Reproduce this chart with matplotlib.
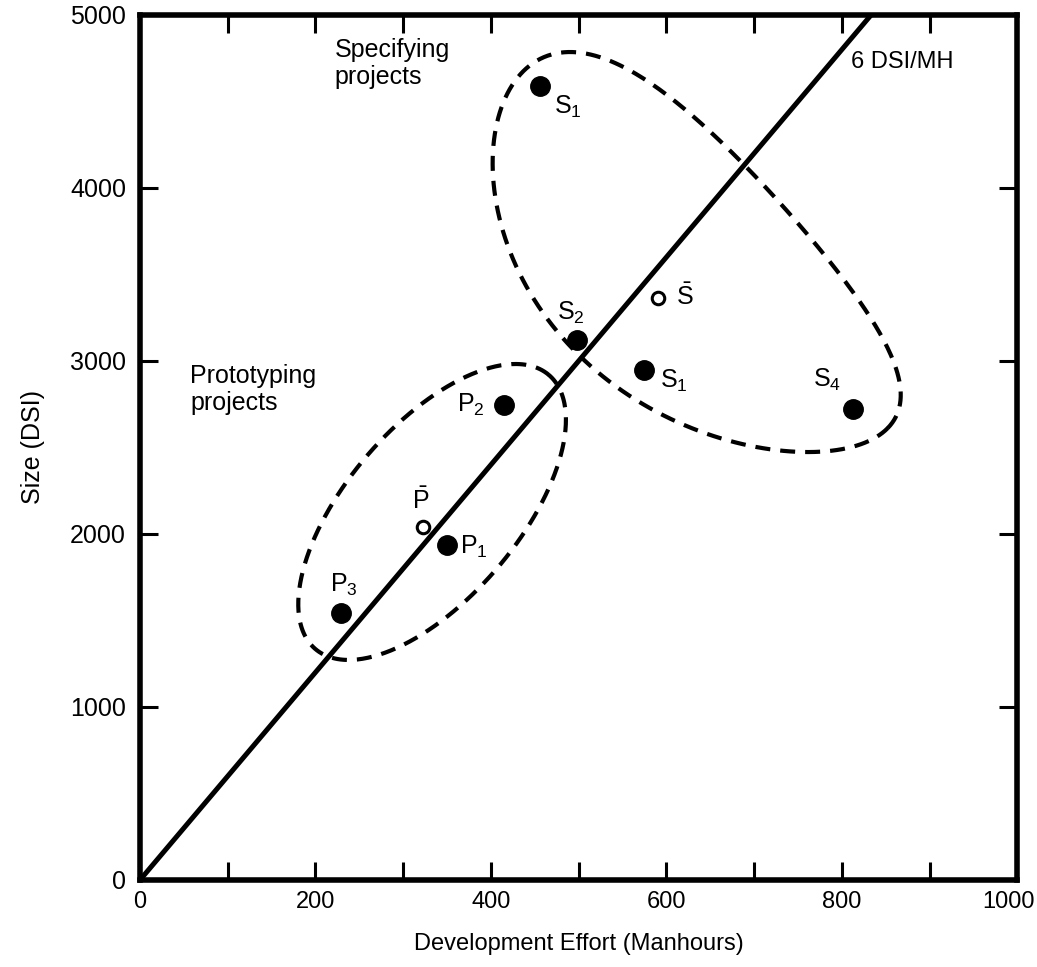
import matplotlib
matplotlib.use("Agg")
import matplotlib.pyplot as plt
import matplotlib.transforms as mtransforms
import numpy as np

plt.rcParams['font.family'] = ['Liberation Sans', 'DejaVu Sans']
plt.rcParams['mathtext.fontset'] = 'custom'
plt.rcParams['mathtext.rm'] = 'Liberation Sans'
plt.rcParams['mathtext.it'] = 'Liberation Sans'

# data
spec_names = ["S$_1$", "S$_2$", "S$_1$", "S$_4$"]
spec_effort = [456, 498, 574, 813]
spec_size = [4590, 3120, 2950, 2720]
spec_offsets = [(20, -15), (-4, 20), (22, -8), (-19, 21)]  # label offsets (pt)

proto_names = ["P$_2$", "P$_1$", "P$_3$"]
proto_effort = [415, 350, 229]
proto_size = [2746, 1936, 1543]
proto_offsets = [(-24, 0), (19, -1), (2, 20)]

mean_names = ["$\\bar{\\mathrm{S}}$", "$\\bar{\\mathrm{P}}$"]
mean_effort = [591, 323]
mean_size = [3364, 2040]
mean_offsets = [(19, 1), (-2, 19)]

rate = 6  # DSI per manhour

fig = plt.figure(figsize=(10.37, 9.67), dpi=100)
ax = fig.add_axes([0.135, 0.09, 0.846, 0.8945])
ax.set_xlim(0, 1000)
ax.set_ylim(0, 5000)
AX_W, AX_H = 877, 865  # axes size in pixels


def loop(cx, cy, a, b, angle, bow=0.0, taper=0.0):
    # hand-drawn looking closed curve, sizes in axes pixels
    t = np.linspace(0, 2 * np.pi, 400)
    u = a * np.cos(t)
    v = b * np.sin(t) * (1 - taper * np.cos(t)) - bow * np.sin(t) ** 2
    th = np.radians(angle)
    px = cx + u * np.cos(th) - v * np.sin(th)
    py = cy + u * np.sin(th) + v * np.cos(th)
    return px / AX_W, py / AX_H


# productivity line
xs = np.array([0, 5000 / rate])
ax.plot(xs, rate * xs, color='black', lw=3.6, solid_capstyle='butt', zorder=3)
ax.text(810, 4728, "6 DSI/MH", fontsize=17, ha='left', va='center')

# dashed groupings
dash = (0, (3.6, 2.4))
sx, sy = loop(565, 630, 255, 125, -44.3, bow=38, taper=0.1)
ax.plot(sx, sy, transform=ax.transAxes, color='black', lw=3, linestyle=dash)
px_, py_ = loop(292, 368, 180, 86, 49.6)
ax.plot(px_, py_, transform=ax.transAxes, color='black', lw=3, linestyle=dash)

# points
ax.plot(spec_effort, spec_size, 'o', color='black', ms=14, zorder=4)
ax.plot(proto_effort, proto_size, 'o', color='black', ms=14, zorder=4)
ax.plot(mean_effort, mean_size, 'o', mfc='white', mec='black', mew=2.2,
        ms=9, zorder=4)

for names, xv, yv, offs in [(spec_names, spec_effort, spec_size, spec_offsets),
                            (proto_names, proto_effort, proto_size, proto_offsets),
                            (mean_names, mean_effort, mean_size, mean_offsets)]:
    for n, x, y, o in zip(names, xv, yv, offs):
        ax.annotate(n, (x, y), xytext=o, textcoords='offset points',
                    ha='center', va='center', fontsize=18)

ax.text(222, 4720, "Specifying\nprojects", fontsize=18, ha='left', va='center',
        linespacing=1.15)
ax.text(57, 2835, "Prototyping\nprojects", fontsize=18, ha='left', va='center',
        linespacing=1.15)

# axes styling
for s in ax.spines.values():
    s.set_linewidth(4)
ax.set_xticks(range(0, 1001, 200))
ax.set_xticks(range(100, 1000, 200), minor=True)
ax.set_yticks(range(0, 5001, 1000))
ax.tick_params(which='both', direction='in', length=13, width=2.2,
               top=True, right=True)
ax.tick_params(axis='x', labelsize=17, pad=8)
ax.tick_params(axis='y', labelsize=18, pad=10)
last = ax.get_xticklabels()[-1]
last.set_transform(last.get_transform() +
                   mtransforms.ScaledTranslation(-9 / 100, 0, fig.dpi_scale_trans))
ax.set_xlabel("Development Effort (Manhours)", fontsize=17, labelpad=14)
ax.set_ylabel("Size (DSI)", fontsize=18, labelpad=18)

fig.savefig("out.png", dpi=100, facecolor='white')
